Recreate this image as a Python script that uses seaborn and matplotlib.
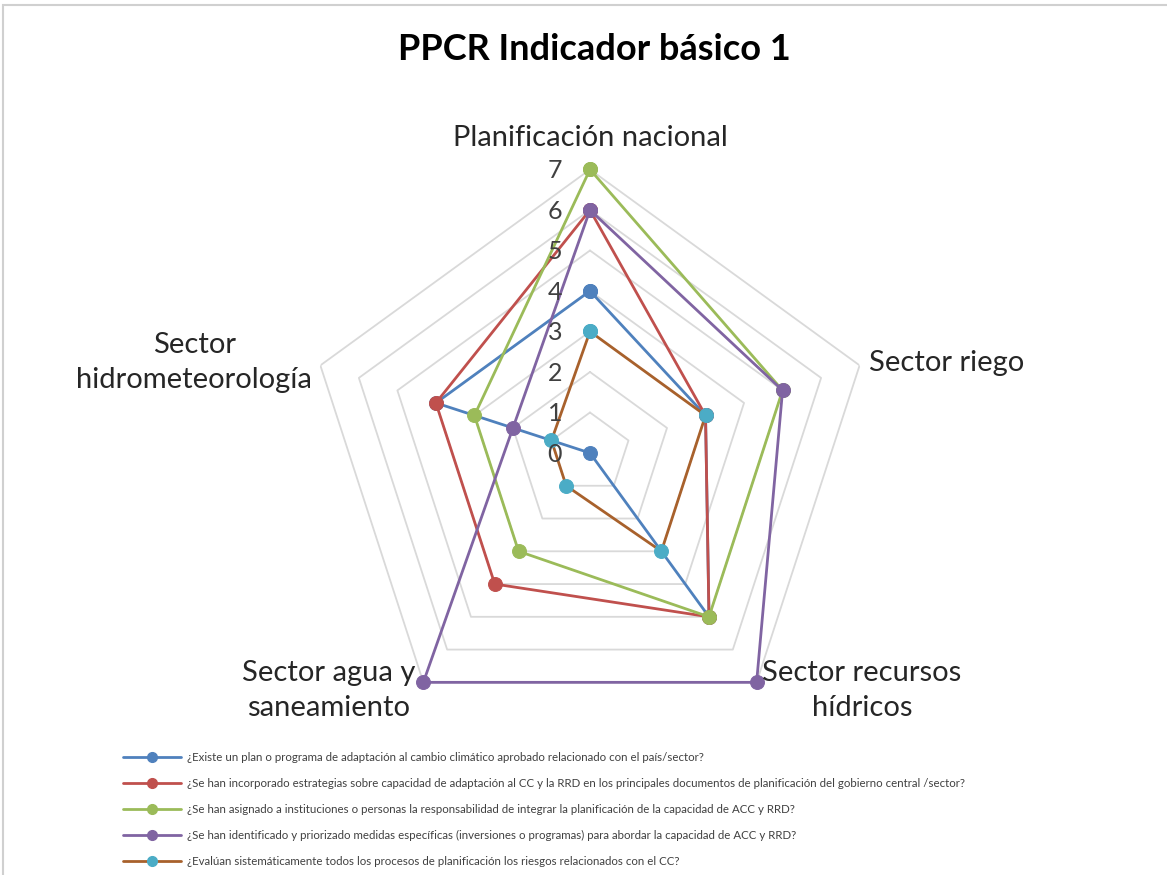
import numpy as np
import pandas as pd
import matplotlib
matplotlib.use("Agg")
import matplotlib.pyplot as plt
import seaborn as sns
from matplotlib.lines import Line2D
from matplotlib.patches import Rectangle

categories = ["Planificación nacional", "Sector riego", "Sector recursos\nhídricos",
              "Sector agua y\nsaneamiento", "Sector\nhidrometeorología"]

plan_vals     = [4, 3, 5, 0, 4]
estrat_vals   = [6, 3, 5, 4, 4]
asign_vals    = [7, 5, 5, 3, 3]
medidas_vals  = [6, 5, 7, 7, 2]
evaluan_vals  = [3, 3, 3, 1, 1]

series_labels = [
    "¿Existe un plan o programa de adaptación al cambio climático aprobado relacionado con el país/sector?",
    "¿Se han incorporado estrategias sobre capacidad de adaptación al CC y la RRD en los principales documentos de planificación del gobierno central /sector?",
    "¿Se han asignado a instituciones o personas la responsabilidad de integrar la planificación de la capacidad de ACC y RRD?",
    "¿Se han identificado y priorizado medidas específicas (inversiones o programas) para abordar la capacidad de ACC y RRD?",
    "¿Evalúan sistemáticamente todos los procesos de planificación los riesgos relacionados con el CC?",
]
levels = [0, 1, 2, 3, 4, 5, 6, 7]

series_vals = [plan_vals, estrat_vals, asign_vals, medidas_vals, evaluan_vals]
line_colors   = ["#4F81BD", "#C0504D", "#9BBB59", "#8064A2", "#A8612C"]
marker_colors = ["#4F81BD", "#C0504D", "#9BBB59", "#8064A2", "#4BACC6"]

sns.set_style("white")
plt.rcParams["font.family"] = ["Lato", "DejaVu Sans"]

fig = plt.figure(figsize=(11.67, 8.75), dpi=100)
fig.patches.append(Rectangle((3 / 1167, -0.1), 1.2, 1.1 - 5 / 875, transform=fig.transFigure,
                             fill=False, edgecolor="#d0d0d0", linewidth=1.5))

ax = fig.add_axes([0.2626, 0.1583, 0.4859, 0.648], projection="polar")
ax.set_theta_offset(np.pi / 2)
ax.set_theta_direction(-1)

n = len(categories)
theta = np.linspace(0, 2 * np.pi, n, endpoint=False)
theta_closed = np.append(theta, theta[0])

# pentagon grid
for lvl in levels[1:]:
    ax.plot(theta_closed, [lvl] * (n + 1), color="#d9d9d9", linewidth=1.3, zorder=0)

for vals, lc, mc, lab in zip(series_vals, line_colors, marker_colors, series_labels):
    df = pd.DataFrame({"theta": theta_closed, "r": vals + vals[:1]})
    sns.lineplot(data=df, x="theta", y="r", sort=False, estimator=None, ax=ax,
                 color=lc, linewidth=2, marker="o", markersize=10,
                 markerfacecolor=mc, markeredgecolor=mc, clip_on=False)

ax.set_ylim(0, 7)
ax.set_xticks([])
ax.set_yticks([])
ax.grid(False)
ax.spines["polar"].set_visible(False)
ax.set_xlabel("")
ax.set_ylabel("")
ax.patch.set_alpha(0)

# radial value labels
for lvl in levels:
    ax.annotate(str(lvl), (0, lvl), xytext=(-20, -1), textcoords="offset points",
                ha="right", va="center", fontsize=18, color="#404040")

# category labels
offsets = [(0, 23), (7, 2), (4, -6), (-6, -6), (-6, 2)]
aligns = ["center", "left", "left", "right", "right"]
for t, cat, off, ha in zip(theta, categories, offsets, aligns):
    ax.annotate(cat, (t, 7), xytext=off, textcoords="offset points", ha=ha,
                va="center", multialignment="center", fontsize=21, color="#262626",
                linespacing=1.45, annotation_clip=False)

fig.text(0.509, 0.944, "PPCR Indicador básico 1", ha="center", va="center",
         fontsize=26, fontweight="bold", color="black")

handles = [Line2D([], [], color=lc, linewidth=2, marker="o", markersize=7,
                  markerfacecolor=mc, markeredgecolor=mc)
           for lc, mc in zip(line_colors, marker_colors)]
fig.legend(handles, series_labels, loc="upper left", bbox_to_anchor=(113 / 1167, 1 - 742 / 875),
           frameon=False, fontsize=8.3, handlelength=5.0, handletextpad=0.5,
           labelspacing=1.3, labelcolor="#404040")

fig.savefig("out.png", dpi=100)
